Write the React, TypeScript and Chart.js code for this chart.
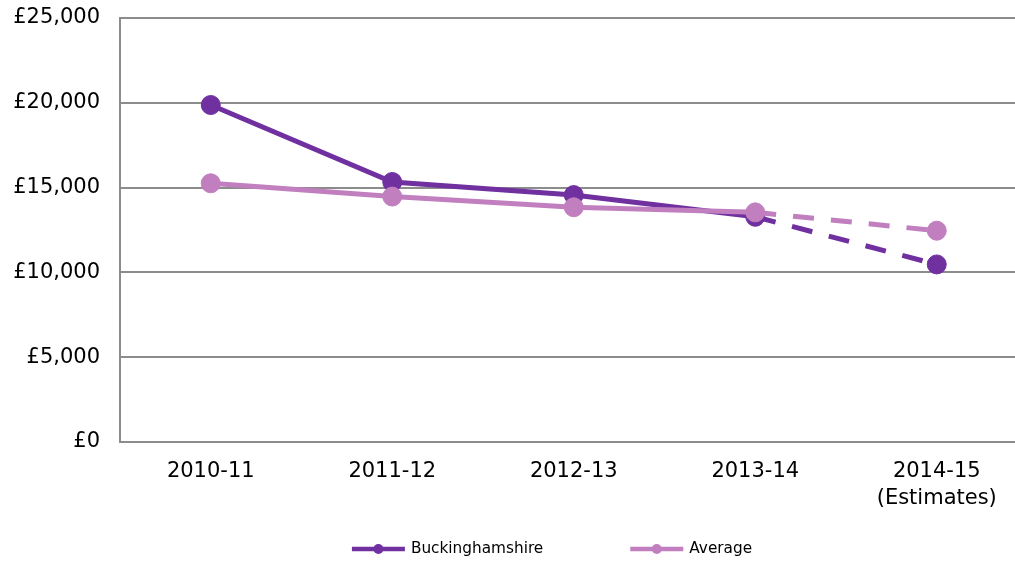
import React, { useEffect, useRef } from "react";
import { Chart, registerables } from "chart.js";

Chart.register(...registerables);

const categories: (string | string[])[] = ["2010-11", "2011-12", "2012-13", "2013-14", ["2014-15", "(Estimates)"]];
const buckinghamshire = [19870, 15330, 14560, 13280, 10470];
const average = [15255, 14470, 13840, 13540, 12460];
const seriesNames = ["Buckinghamshire", "Average"];
const seriesColors = ["#7030A0", "#C17FC0"];
const yMin = 0;
const yMax = 25000;
const yStep = 5000;

const FONT = '"DejaVu Sans", Verdana, sans-serif';

const legendPlugin = {
  id: "customLegend",
  afterDraw(chart: any) {
    const ctx = chart.ctx as CanvasRenderingContext2D;
    const lineW = 53;
    const textGap = 6;
    const itemGap = 87;
    ctx.save();
    ctx.font = `15.3px ${FONT}`;
    const widths = chart.data.datasets.map((d: any) => lineW + textGap + ctx.measureText(d.label).width);
    const total = widths.reduce((a: number, b: number) => a + b, 0) + itemGap * (widths.length - 1);
    let x = 552 - total / 2;
    const y = chart.height - 12;
    chart.data.datasets.forEach((d: any, i: number) => {
      ctx.strokeStyle = d.borderColor;
      ctx.fillStyle = d.borderColor;
      ctx.lineWidth = 4.5;
      ctx.beginPath();
      ctx.moveTo(x, y);
      ctx.lineTo(x + lineW, y);
      ctx.stroke();
      ctx.beginPath();
      ctx.arc(x + lineW / 2, y, 5, 0, Math.PI * 2);
      ctx.fill();
      ctx.fillStyle = "#000";
      ctx.textBaseline = "middle";
      ctx.textAlign = "left";
      ctx.fillText(d.label, x + lineW + textGap, y);
      x += widths[i] + itemGap;
    });
    ctx.restore();
  },
};

export default function App() {
  const ref = useRef<HTMLCanvasElement>(null);
  useEffect(() => {
    if (!ref.current) return;
    const dash = (ctx: any) => (ctx.p1DataIndex === 4 ? [21, 17] : undefined);
    const chart = new Chart(ref.current, {
      type: "line",
      data: {
        labels: categories as any,
        datasets: [
          {
            label: seriesNames[0],
            data: buckinghamshire,
            borderColor: seriesColors[0],
            backgroundColor: seriesColors[0],
            borderWidth: 5,
            pointRadius: 9.5,
            pointBorderWidth: 1,
            pointBackgroundColor: seriesColors[0],
            segment: { borderDash: dash },
            tension: 0,
            order: 1,
          },
          {
            label: seriesNames[1],
            data: average,
            borderColor: seriesColors[1],
            backgroundColor: seriesColors[1],
            borderWidth: 5,
            pointRadius: 9.5,
            pointBorderWidth: 1,
            pointBackgroundColor: seriesColors[1],
            segment: { borderDash: dash },
            tension: 0,
            order: 0,
          },
        ],
      },
      options: {
        animation: false,
        responsive: false,
        maintainAspectRatio: false,
        layout: { padding: { top: 18, bottom: 49, left: 0, right: 0 } },
        plugins: {
          legend: { display: false },
          tooltip: { enabled: false },
        },
        scales: {
          x: {
            offset: true,
            grid: { display: false, drawTicks: true, tickLength: 16 },
            border: { display: false },
            ticks: {
              color: "#000",
              font: { family: FONT, size: 21, lineHeight: 1.3 },
              padding: 0,
              maxRotation: 0,
              autoSkip: false,
            },
            afterFit: (s: any) => {
              s.height = 70;
              s.paddingRight = 0;
              s.paddingLeft = 0;
            },
          },
          y: {
            min: yMin,
            max: yMax,
            grid: { color: "#8c8c8c", lineWidth: 2, drawTicks: true, tickLength: 20, tickColor: "rgba(0,0,0,0)" },
            border: { display: true, color: "#8c8c8c", width: 2 },
            ticks: {
              stepSize: yStep,
              color: "#000",
              padding: 0,
              font: { family: FONT, size: 21 },
              callback: (v: any) => "£" + Number(v).toLocaleString("en-GB"),
            },
            afterFit: (s: any) => {
              s.width = 120;
            },
          },
        },
      },
      plugins: [legendPlugin],
    });
    return () => chart.destroy();
  }, []);
  return (
    <div style={{ position: "fixed", left: 0, top: 0, width: 1015, height: 561, overflow: "hidden", background: "#fff" }}>
      <canvas ref={ref} width={1038} height={561} style={{ display: "block", width: 1038, height: 561 }} />
    </div>
  );
}
